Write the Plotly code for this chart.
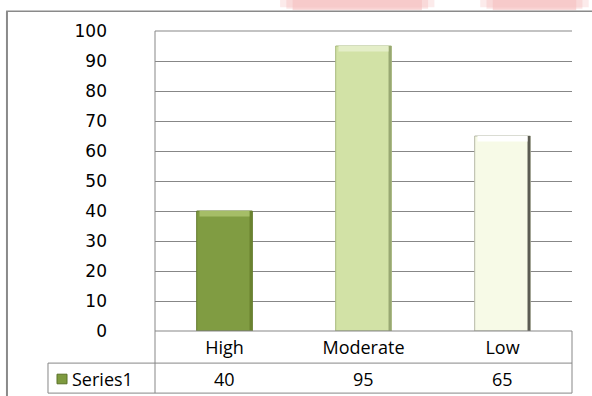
import plotly.graph_objects as go

# Chart data
categories = ["High", "Moderate", "Low"]
values = [40, 95, 65]
series_name = "Series1"
y_ticks = [0, 10, 20, 30, 40, 50, 60, 70, 80, 90, 100]

# Per-bar styling
fill_colors = ["#809C42", "#D2E2A6", "#F7FAE7"]
edge_colors = ["#62792D", "#A7B87C", "#B5B8A6"]
shade_colors = ["#6A822F", "#98A872", "#5B5B52"]
bevel_colors = ["#A5BD67", "#E4EEC8", "#FFFFFF"]

GRID = "#878787"
TEXT_FONT = "Open Sans"
NUM_FONT = "DejaVu Sans"

fig = go.Figure()

# main bars
fig.add_trace(go.Bar(
    x=categories, y=values, width=0.4,
    marker=dict(color=fill_colors, line=dict(color=edge_colors, width=1)),
    hoverinfo="skip", showlegend=False,
))
# darker strip on the right side of each bar
fig.add_trace(go.Bar(
    x=categories, y=values, width=0.02, offset=0.18,
    marker=dict(color=shade_colors, line=dict(width=0)),
    hoverinfo="skip", showlegend=False,
))
# light bevel band along the top of each bar
bevel = 1.8
fig.add_trace(go.Bar(
    x=categories, y=[bevel] * len(values), base=[v - bevel for v in values],
    width=0.36, marker=dict(color=bevel_colors, line=dict(width=0)),
    hoverinfo="skip", showlegend=False,
))

shapes = []

def line(x0, y0, x1, y1, color=GRID, width=1):
    shapes.append(dict(type="line", xref="paper", yref="paper",
                       x0=x0, y0=y0, x1=x1, y1=y1,
                       line=dict(color=color, width=width), layer="above"))

# faint, soft pink marks along the top edge
for x0, x1 in [(0.33, 0.64), (0.81, 1.01)]:
    for pad, alpha in [(0.03, 0.3), (0.015, 0.4), (0.0, 0.55)]:
        shapes.append(dict(type="rect", xref="paper", yref="paper",
                           x0=x0 - pad, x1=x1 + pad, y0=1.069 + pad / 3, y1=1.11,
                           fillcolor=f"rgba(246,190,190,{alpha})",
                           line=dict(width=0), layer="below"))

# outer frame (left and top)
line(-0.355, 1.066, -0.355, -0.35, color="#8A8A8A", width=2)
line(-0.357, 1.066, 1.1, 1.066, color="#8A8A8A", width=1.5)

# plot area edges
line(0, 1, 1, 1)
line(0, 0, 1, 0)
line(0, 1, 0, -0.207)

# data table grid
tbl_left = -0.2566
row_mid = -0.107
row_bot = -0.207
line(1, 0, 1, row_bot)
line(tbl_left, row_mid, 1, row_mid)
line(tbl_left, row_bot, 1, row_bot)
line(tbl_left, row_mid, tbl_left, row_bot)

# legend key in the table
shapes.append(dict(type="rect", xref="paper", yref="paper",
                   x0=-0.235, x1=-0.211, y0=-0.176, y1=-0.144,
                   fillcolor="#7E9A3F", line=dict(color="#5A7228", width=1),
                   layer="above"))

row_y = -0.16
annotations = [dict(x=-0.204, y=row_y, xref="paper", yref="paper",
                    text=series_name, showarrow=False,
                    xanchor="left", yanchor="middle",
                    font=dict(family=TEXT_FONT, size=18, color="#000"))]
for c, v in zip(categories, values):
    annotations.append(dict(x=c, y=row_y, xref="x", yref="paper",
                            text=str(v), showarrow=False,
                            xanchor="center", yanchor="middle",
                            font=dict(family=TEXT_FONT, size=18, color="#000")))

fig.update_layout(
    width=592, height=396, autosize=False,
    margin=dict(l=155, r=20, t=31, b=65),
    paper_bgcolor="white", plot_bgcolor="white",
    barmode="overlay", bargap=0.6,
    shapes=shapes, annotations=annotations,
    xaxis=dict(type="category", categoryorder="array", categoryarray=categories,
               showgrid=False, showline=False, zeroline=False, ticks="",
               ticklabelstandoff=4,
               tickfont=dict(family=TEXT_FONT, size=18, color="#000")),
    yaxis=dict(range=[0, 100], tickvals=y_ticks, ticktext=[str(t) for t in y_ticks],
               showgrid=True, gridcolor=GRID, gridwidth=1, zeroline=False,
               showline=False, ticks="", ticklabelstandoff=47,
               tickfont=dict(family=NUM_FONT, size=17, color="#000")),
)

fig.write_html("out.html")
